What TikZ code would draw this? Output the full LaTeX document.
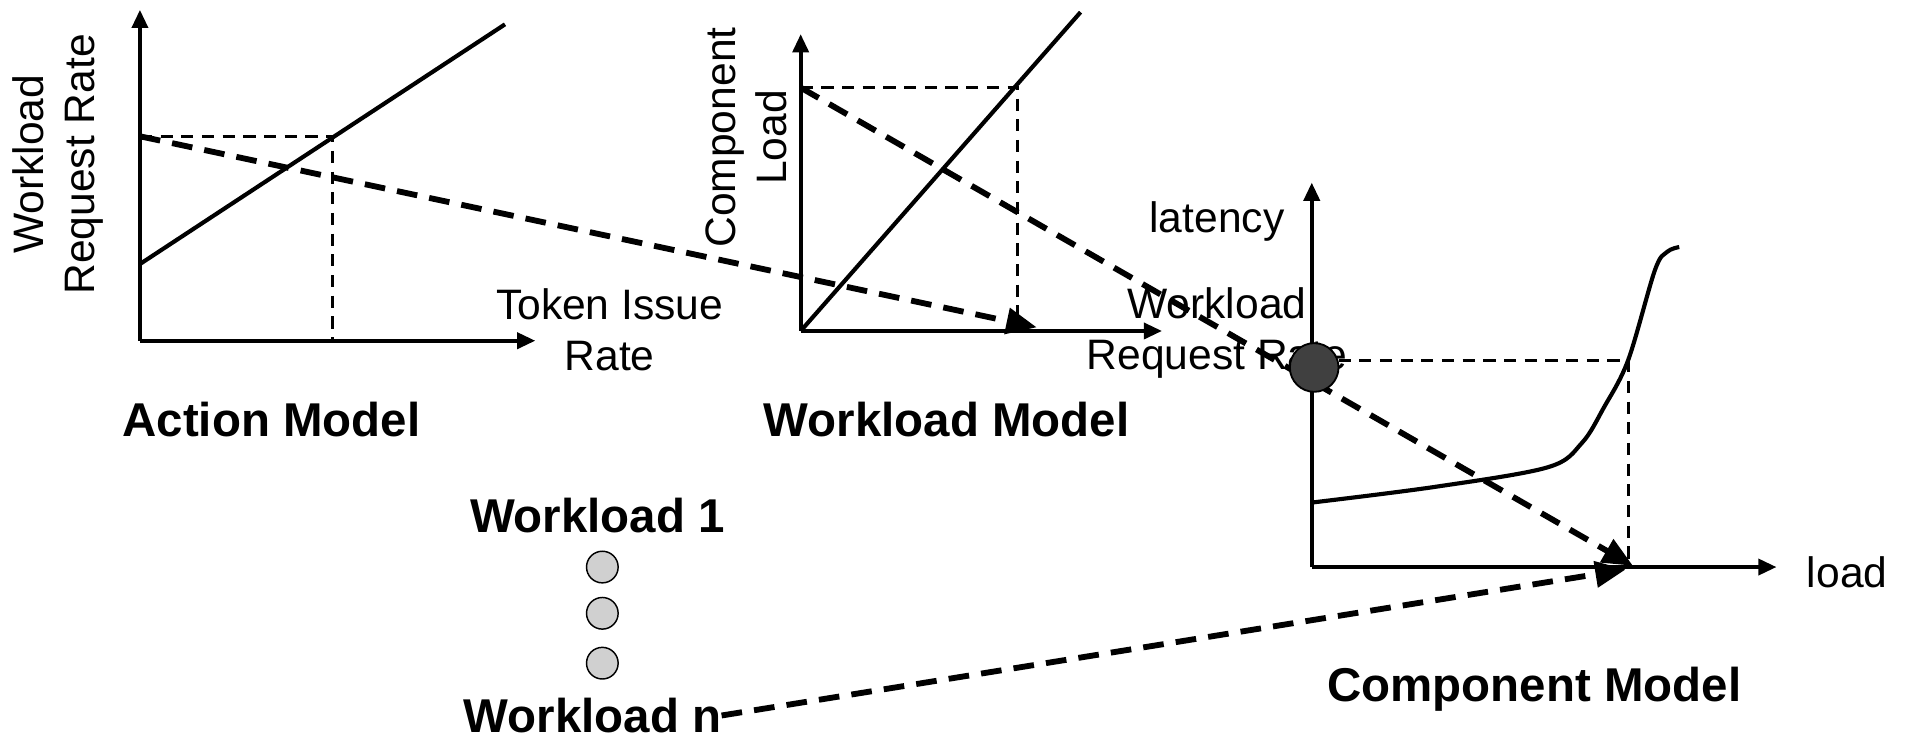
\documentclass[tikz,border=0pt]{standalone}
\usepackage{fontspec}
\setmainfont{Liberation Sans}
\usetikzlibrary{arrows.meta}
\definecolor{darkdot}{HTML}{404040}
\definecolor{lightdot}{HTML}{D0D0D0}
\begin{document}
\begin{tikzpicture}[x=1pt,y=-1pt,
  axis/.style={line width=3.4pt,-{Triangle[length=15pt,width=13pt]}},
  curve/.style={line width=3.4pt,line join=round},
  guide/.style={line width=2.6pt,dash pattern=on 10pt off 7pt},
  flow/.style={line width=4.8pt,dash pattern=on 17pt off 10pt,-{Triangle[length=25pt,width=21pt]}},
  lbl/.style={font=\fontsize{35}{42}\selectfont,align=center,inner sep=0pt},
  ttl/.style={font=\fontsize{39}{46}\selectfont\bfseries,inner sep=0pt},
  wdot/.style={circle,draw=black,line width=1.2pt,fill=lightdot,minimum size=26pt,inner sep=0pt},
  bigdot/.style={circle,draw=black,line width=1.5pt,fill=darkdot,minimum size=40pt,inner sep=0pt},
]
\useasboundingbox (0,0) rectangle (1568,610);

% ---------- Action model ----------
\coordinate (aO) at (115,280);
\coordinate (aY) at (115,8);
\coordinate (aX) at (440,280);
\coordinate (aL0) at (115,217);
\coordinate (aL1) at (415,20);
\coordinate (aYv) at (115,112);
\coordinate (aP) at (273,112);
\coordinate (aXv) at (273,280);
\node[lbl,rotate=90] (aYlab) at (48,135) {Workload\\Request Rate};
\node[lbl] (aXlab) at (501,271) {Token Issue\\Rate};
\node[ttl] (aTitle) at (223,345) {Action Model};

% ---------- Workload model ----------
\coordinate (wO) at (658,272);
\coordinate (wY) at (658,28);
\coordinate (wX) at (955,272);
\coordinate (wL1) at (888,10);
\coordinate (wYv) at (658,72);
\coordinate (wP) at (836,72);
\coordinate (wXv) at (836,272);
\coordinate (wIn) at (852,269);
\node[lbl,rotate=90] (wYlab) at (613,113) {Component\\Load};
\node[lbl] (wXlab) at (1000,274) {Workload\\Request Rate};
\node[ttl] (wTitle) at (778,345) {Workload Model};

% ---------- Component model ----------
\coordinate (cO) at (1078,466);
\coordinate (cY) at (1078,150);
\coordinate (cX) at (1460,466);
\coordinate (cP) at (1338,296);
\coordinate (cXv) at (1338,466);
\coordinate (cIn1) at (1342,465);
\coordinate (cIn2) at (1336,468);
\coordinate (opC) at (1080,302);
\coordinate (cG) at (1100,296);
\node[lbl] (cYlab) at (1000,182) {latency};
\node[lbl] (cXlab) at (1518,470) {load};
\node[ttl] (cTitle) at (1261,566) {Component Model};

% ---------- Workload list ----------
\node[ttl] (w1) at (491,424) {Workload 1};
\node[wdot] (d1) at (495,466) {};
\node[wdot] (d2) at (495,504) {};
\node[wdot] (d3) at (495,545) {};
\node[ttl] (wn) at (487,588) {Workload n};

% axes
\draw[axis] (aO) -- (aY);
\draw[axis] (aO) -- (aX);
\draw[axis] (wO) -- (wY);
\draw[axis] (wO) -- (wX);
\draw[axis] (cO) -- (cY);
\draw[axis] (cO) -- (cX);

% model curves
\draw[curve] (aL0) -- (aL1);
\draw[curve] (wO) -- (wL1);
\draw[curve] plot[smooth,tension=0.55] coordinates
  {(1078,413) (1180,400) (1272,384) (1300,364) (1318,335) (1338,296) (1360,222) (1370,207) (1380,203)};

% guide lines
\draw[guide] (aYv) -- (aP) -- (aXv);
\draw[guide] (wYv) -- (wP) -- (wXv);
\draw[guide] (cG) -- (cP) -- (cXv);

% flows between the models
\draw[flow] (aYv) -- (wIn);
\draw[flow] (wYv) -- (cIn1);
\draw[flow] (wn.east) -- (cIn2);

% operating point on the latency axis
\node[bigdot] (op) at (opC) {};
\end{tikzpicture}
\end{document}
